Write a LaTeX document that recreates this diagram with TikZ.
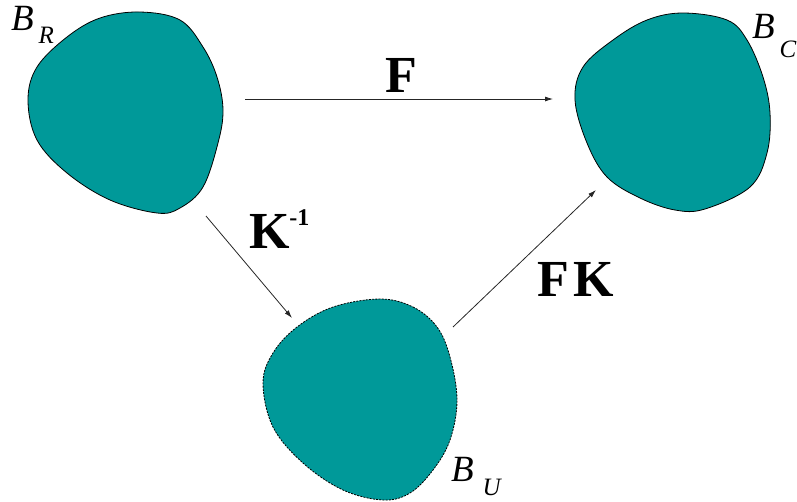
\documentclass[tikz,border=0pt]{standalone}
\usepackage{fontspec}
\setmainfont{Liberation Serif}
\usetikzlibrary{arrows.meta}
\definecolor{blobteal}{RGB}{0,153,153}
\tikzset{
    blob/.style={fill=blobteal, draw=black, line width=0.8pt},
    dashblob/.style={blob, dash pattern=on 2pt off 1.2pt}
}
\tikzset{
    map/.style={draw=black!85, line width=0.8pt, -{Latex[length=8pt,width=5pt]}}
}
\tikzset{
    every node/.style={inner sep=0pt, outer sep=0pt},
    lbl/.style={font=\fontsize{37}{37}\selectfont\itshape, anchor=base west},
    opname/.style={font=\fontsize{52}{52}\selectfont\bfseries, anchor=base west}
}
\newcommand{\subs}[1]{{\fontsize{25}{25}\selectfont #1}}

\begin{document}
\begin{tikzpicture}[x=1pt,y=-1pt]
	\useasboundingbox (0,0) rectangle (797,501);

	% the three bodies
	\draw[blob] plot[smooth cycle, tension=0.6] coordinates {
		(140,12) (180,20) (203,47) (217,77) (223,110) (218,143) (203,187) (180,208)
		(157,213) (110,200) (67,173) (37,140) (28,100) (37,67) (67,37) (100,18)};
	\draw[blob] plot[smooth cycle, tension=0.6] coordinates {
		(683,13) (727,20) (747,40) (763,77) (770,113) (767,153) (750,187) (705,209)
		(675,210) (640,198) (607,177) (587,143) (575,100) (583,67) (613,40) (647,20)};
	\draw[dashblob] plot[smooth cycle, tension=0.6] coordinates {
		(380,299) (413,307) (437,327) (450,357) (457,400) (450,440) (433,470) (410,493)
		(383,500) (343,490) (303,463) (273,427) (263,383) (273,353) (297,327) (333,307)};

	\node[lbl] (bR) at (11,30) {B\kern5pt\raisebox{-13pt}{\subs{R}}};
	\node[lbl] (bC) at (752,38) {B\kern5pt\raisebox{-19pt}{\subs{C}}};
	\node[lbl] (bU) at (451,481) {B\kern9pt\raisebox{-14pt}{\subs{U}}};

	% maps between them
	\coordinate (r1) at (245,99);  \coordinate (c1) at (553,99);
	\coordinate (r2) at (206,216); \coordinate (u1) at (292,318);
	\coordinate (u2) at (453,327); \coordinate (c2) at (596,190);

	\draw[map] (r1) -- (c1);
	\draw[map] (r2) -- (u1);
	\draw[map] (u2) -- (c2);

	\node[opname] (mF) at (385,92) {F};
	\node[opname] (mK) at (249,248) {K\raisebox{23pt}{\fontsize{24}{24}\selectfont-1}};
	\node[opname] (mFK) at (537,296) {F\kern5pt K};
\end{tikzpicture}
\end{document}
